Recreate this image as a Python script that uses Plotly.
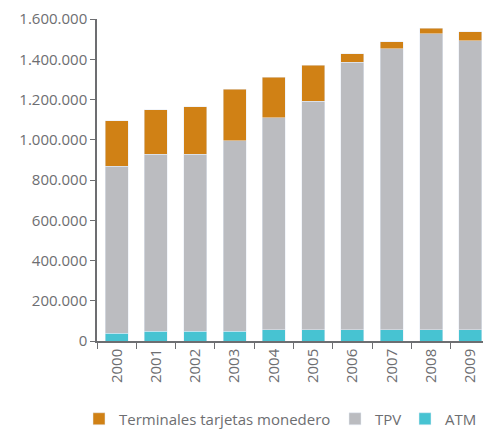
import plotly.graph_objects as go

years = ["2000", "2001", "2002", "2003", "2004", "2005", "2006", "2007", "2008", "2009"]
atm = [38000, 48000, 48000, 48000, 57000, 57000, 57000, 57000, 57000, 57000]
tpv = [830000, 879000, 879000, 948000, 1052000, 1135000, 1327000, 1395000, 1469000, 1435000]
terminales = [226000, 221000, 236000, 255000, 201000, 177000, 44000, 35000, 29000, 44000]
y_ticks = [0, 200000, 400000, 600000, 800000, 1000000, 1200000, 1400000, 1600000]

W, H = 483, 422
fig = go.Figure()
fig.add_trace(go.Bar(x=years, y=atm, name="ATM", marker_color="#47C3D2", legend="legend3"))
fig.add_trace(go.Bar(x=years, y=tpv, name="TPV", marker_color="#BBBCC0", legend="legend2"))
fig.add_trace(go.Bar(x=years, y=terminales, name="Terminales tarjetas monedero",
                     marker_color="#D08115", legend="legend"))

def leg(xpx):
    return dict(orientation="h", xref="container", x=xpx / W, xanchor="left",
                yref="container", y=11 / H, yanchor="middle",
                font=dict(size=15, color="#6d6e71"), itemwidth=30,
                bgcolor="rgba(0,0,0,0)")

fig.update_layout(
    barmode="stack",
    bargap=0.415,
    width=W, height=H,
    margin=dict(l=89, r=1, t=11, b=89, autoexpand=False),
    plot_bgcolor="white", paper_bgcolor="white",
    separators=",.",
    font=dict(family="Open Sans", size=14, color="#6d6e71"),
    showlegend=True,
    legend=leg(71), legend2=leg(327), legend3=leg(397),
    xaxis=dict(type="category", showline=True, linecolor="#6d6e71", linewidth=1.5,
               ticks="outside", tickson="boundaries", ticklen=6, tickcolor="#6d6e71",
               tickangle=-90, tickfont=dict(size=15), showgrid=False),
    yaxis=dict(range=[0, 1600000], tickvals=y_ticks, tickformat=",d", showline=True,
               linecolor="#6d6e71", linewidth=1.5, ticks="outside", ticklen=5,
               tickcolor="#6d6e71", showgrid=False, zeroline=False, tickfont=dict(size=15),
               ticklabeloverflow="allow"),
)
fig.write_html("out.html")
